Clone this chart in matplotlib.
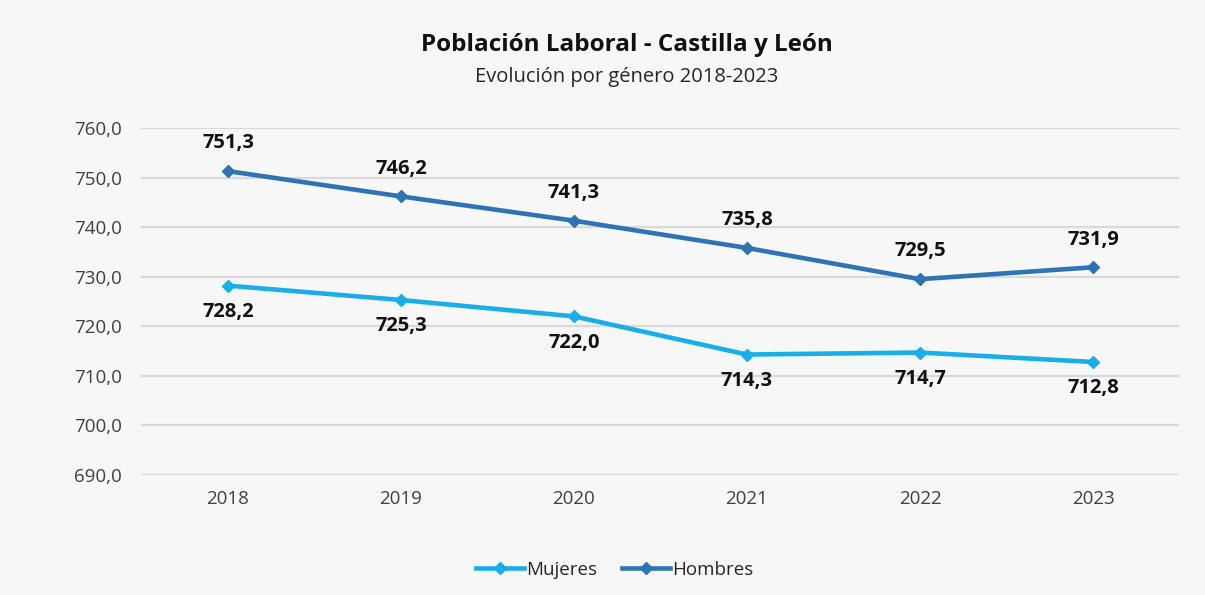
import matplotlib.pyplot as plt

# data
years = ['2018', '2019', '2020', '2021', '2022', '2023']
mujeres = [728.2, 725.3, 722.0, 714.3, 714.7, 712.8]
hombres = [751.3, 746.2, 741.3, 735.8, 729.5, 731.9]
y_ticks = [690, 700, 710, 720, 730, 740, 750, 760]

plt.rcParams['font.family'] = ['Open Sans', 'DejaVu Sans']

fig = plt.figure(figsize=(12.05, 5.95), dpi=100, facecolor='#f7f7f7')
ax = fig.add_axes([0.1174, 0.2017, 0.8614, 0.5832])
ax.set_facecolor('#f7f7f7')

c_muj = '#1aaee8'
c_hom = '#2e74b5'
x = range(len(years))

ax.plot(x, mujeres, color=c_muj, lw=3.3, marker='D', ms=6.5, label='Mujeres', zorder=3)
ax.plot(x, hombres, color=c_hom, lw=3.3, marker='D', ms=6.5, label='Hombres', zorder=3)

def fmt(v):
    return f'{v:.1f}'.replace('.', ',')

# labels: Hombres above, Mujeres below
for i, v in enumerate(hombres):
    ax.annotate(fmt(v), (i, v), xytext=(0, 20), textcoords='offset points',
                ha='center', va='center', fontsize=14.5, fontweight='bold', color='#111111')
for i, v in enumerate(mujeres):
    ax.annotate(fmt(v), (i, v), xytext=(0, -19), textcoords='offset points',
                ha='center', va='center', fontsize=14.5, fontweight='bold', color='#111111')

ax.set_xlim(-0.5, 5.5)
ax.set_ylim(690, 760)
ax.set_xticks(list(x))
ax.set_xticklabels(years)
ax.set_yticks(y_ticks)
ax.set_yticklabels([fmt(t) for t in y_ticks])
ax.tick_params(length=0, labelsize=13.5, labelcolor='#404040')
ax.tick_params(axis='x', pad=11)
ax.tick_params(axis='y', pad=14)
ax.grid(True, axis='y', color='#d9d9d9', lw=1.6)
ax.set_axisbelow(True)
for s in ax.spines.values():
    s.set_visible(False)

fig.text(0.52, 0.925, 'Población Laboral - Castilla y León', ha='center', va='center',
         fontsize=17.5, fontweight='bold', color='#111111')
fig.text(0.52, 0.87, 'Evolución por género 2018-2023', ha='center', va='center',
         fontsize=14.5, color='#262626')

fig.legend(loc='center', bbox_to_anchor=(0.51, 0.042), ncol=2, frameon=False,
           fontsize=13.5, handlelength=2.6, handletextpad=0.1, columnspacing=1.3,
           labelcolor='#262626')

fig.savefig('out.png', dpi=100, facecolor=fig.get_facecolor())
